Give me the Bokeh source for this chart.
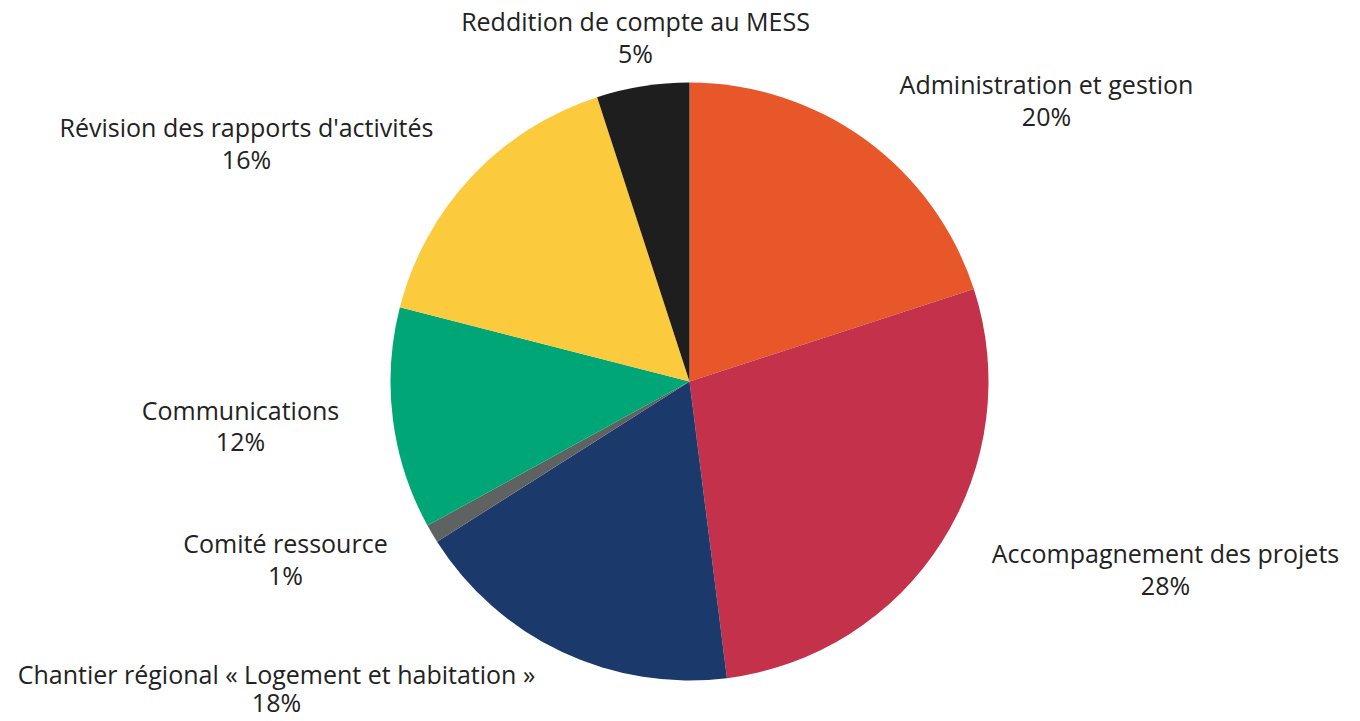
import math
from bokeh.plotting import figure
from bokeh.models import Range1d, ColumnDataSource
from bokeh.core.properties import value
from bokeh.embed import file_html
from bokeh.resources import INLINE

# ---- data ----
categories = [
    "Administration et gestion",
    "Accompagnement des projets",
    "Chantier régional « Logement et habitation »",
    "Comité ressource",
    "Communications",
    "Révision des rapports d'activités",
    "Reddition de compte au MESS",
]
percentages = [20, 28, 18, 1, 12, 16, 5]
colors = ["#E8572A", "#C4314B", "#1B3A6B", "#5E6361", "#00A676", "#FCCA3D", "#1E1E1E"]

# ---- layout (screen pixels) ----
W, H = 1360, 721
CX, CY, R = 689, 381, 299
# label centre positions (name line, percent line) in screen pixels
label_pos = [(1046, 83, 115), (1165, 552, 584), (276, 673, 701), (285, 542, 574),
             (240, 409, 440), (246, 126, 158), (635, 20, 52)]

p = figure(width=W, height=H, x_range=Range1d(0, W), y_range=Range1d(0, H),
           output_backend="svg", toolbar_location=None, min_border=0)
p.axis.visible = False
p.grid.visible = False
p.outline_line_color = None
p.background_fill_color = "white"

total = sum(percentages)
starts, ends = [], []
cum = 0.0
for v in percentages:
    a0 = math.pi / 2 - 2 * math.pi * cum / total
    cum += v
    a1 = math.pi / 2 - 2 * math.pi * cum / total
    starts.append(a0)
    ends.append(a1)

src = ColumnDataSource(dict(start=starts, end=ends, color=colors, cat=categories, pct=percentages))
p.wedge(x=CX, y=H - CY, radius=R, start_angle="start", end_angle="end",
        direction="clock", fill_color="color", line_color=None, source=src)

lx = [t[0] for t in label_pos]
ly_name = [H - t[1] for t in label_pos]
ly_pct = [H - t[2] for t in label_pos]
pct_text = [f"{v}%" for v in percentages]

p.text(x=lx, y=ly_name, text=categories, text_align="center", text_baseline="middle",
       text_font=value("Open Sans"), text_font_size="25px", text_color="#222222")
p.text(x=lx, y=ly_pct, text=pct_text, text_align="center", text_baseline="middle",
       text_font=value("Open Sans"), text_font_size="25px", text_color="#222222")

open("out.html", "w").write(file_html(p, INLINE))
